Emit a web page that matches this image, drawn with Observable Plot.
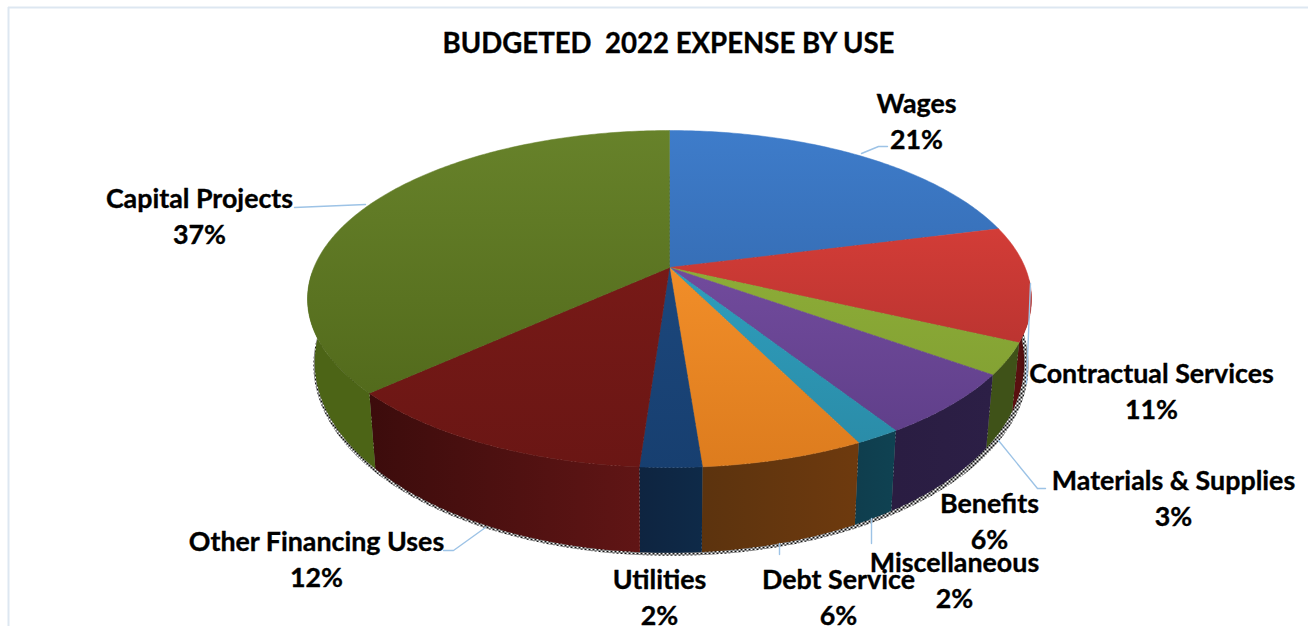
<!DOCTYPE html>
<html>
<head>
<meta charset="utf-8">
<script src="https://cdn.jsdelivr.net/npm/d3@7"></script>
<script src="https://cdn.jsdelivr.net/npm/@observablehq/plot@0.6"></script>
<style>
html,body{margin:0;padding:0;background:#fff}
svg{display:block}
</style>
</head>
<body>
<div id="chart"></div>
<script>
// --- data ---
const categories = ["Wages","Contractual Services","Materials & Supplies","Benefits","Miscellaneous","Debt Service","Utilities","Other Financing Uses","Capital Projects"];
const shares     = [21, 11, 3, 6, 1.7, 6.1, 2.3, 12.1, 36.8];     // slice widths
const percentLabels = ["21%","11%","3%","6%","2%","6%","2%","12%","37%"];
const chartTitle = "BUDGETED  2022 EXPENSE BY USE";

// --- styles ---
const topLight = ["#3e7cca","#e6433c","#98b83c","#8054ac","#31abcb","#ff9a30","#1f4c84","#801c19","#67822a"];
const topDark  = ["#2c5c9c","#a32c2a","#7c9a30","#5c3d86","#2a8aa6","#dd7c1e","#173f70","#6a1614","#4d6418"];
const sideA    = ["#16365c","#400a0a","#3f5218","#2c1f46","#0f4252","#6e3a0e","#0e2a48","#601515","#4c6416"];
const sideB    = ["#16365c","#5a1010","#3f5218","#2a1d42","#0f3e4e","#5c330e","#0e2440","#3c0c0c","#4c6416"];
const leaderColor = "#9dc3e6";
const frameColor = "#dde7f1";

// --- layout of the tilted disc ---
const cx = 669, cy = 267, A = 355.6, B = 162.6, k = 0.187;
const lowX = 0.98, lowCy = 326, lowB = 184;
const ring = (f, sx, yc, b) => {
  const t = 2 * Math.PI * f, s = Math.sin(t), c = Math.cos(t), w = 1 + k * c;
  return {x: cx + sx * A * s / w, y: yc - b * c / w};
};
const topPt = f => ring(f, 1, cy, B);
const lowPt = f => ring(f, lowX, lowCy, lowB);

const total = d3.sum(shares);
const cum = d3.cumsum(shares).map(v => v / total);
const starts = [0, ...cum.slice(0, -1)];
const steps = (a, b, d) => { const n = Math.max(1, Math.ceil((b - a) / d)); return d3.range(n + 1).map(i => a + (b - a) * i / n); };

// top wedges, one polygon per slice
const wedges = categories.map((name, i) => [
  {x: cx, y: cy}, ...steps(starts[i], cum[i], 0.002).map(topPt), {x: cx, y: cy}
]);

// rim panels, one polygon per visible slice
const rimLimits = categories.map((name, i) => [Math.max(starts[i], 0.262), Math.min(cum[i], 0.745)]);
const rims = categories.map((name, i) => {
  const [a, b] = rimLimits[i];
  if (a >= b) return [];
  const fs = steps(a, b, 0.002);
  return [...fs.map(topPt), ...fs.slice().reverse().map(lowPt), topPt(a)];
});

// halftone shadow below the rim
const shadow = steps(0, 1, 0.002).map(f => { const p = lowPt(f); return {x: cx + 1.5 + (p.x - cx) * 1.008, y: p.y + 3}; });

// label anchors and leader lines
const labelAt = [[916,119],[1151,389],[1173,496],[989,519],[954,578],[838,595],[659,595],[316,557],[199,214]];
const leaders = [
  [[861,153],[878,146],[887,146]],
  [[1030,283],[1026,383]],
  [[998,440],[1037,488],[1045,488]],
  [],
  [[871,518],[871,543]],
  [[779,543],[779,554]],
  [],
  [[485,527],[453,550],[443,550]],
  [[365,204],[294,207]]
];
const labels = categories.map((name, i) => ({x: labelAt[i][0], y: labelAt[i][1], text: name + "\n" + percentLabels[i]}));
const leaderRows = leaders.flatMap((l, i) => l.map(p => ({x: p[0], y: p[1], i})));

const defsMark = () => {
  const defs = d3.create("svg:defs");
  categories.forEach((n, i) => {
    const g = defs.append("linearGradient").attr("id", "top" + i).attr("gradientUnits", "userSpaceOnUse")
      .attr("x1", 0).attr("x2", 0).attr("y1", 130).attr("y2", 467);
    g.append("stop").attr("offset", 0).attr("stop-color", topLight[i]);
    g.append("stop").attr("offset", 1).attr("stop-color", topDark[i]);
    if (rims[i].length) {
      const x1 = topPt(rimLimits[i][0]).x, x2 = topPt(rimLimits[i][1]).x;
      const h = defs.append("linearGradient").attr("id", "rim" + i).attr("gradientUnits", "userSpaceOnUse")
        .attr("x1", x1).attr("x2", x2).attr("y1", 0).attr("y2", 0);
      h.append("stop").attr("offset", 0).attr("stop-color", sideA[i]);
      h.append("stop").attr("offset", 1).attr("stop-color", sideB[i]);
    }
  });
  const p = defs.append("pattern").attr("id", "dither").attr("patternUnits", "userSpaceOnUse").attr("width", 4).attr("height", 4);
  p.append("rect").attr("width", 2).attr("height", 2).attr("fill", "#111");
  p.append("rect").attr("x", 2).attr("y", 2).attr("width", 2).attr("height", 2).attr("fill", "#111");
  return defs.node();
};

const font = "Lato, Carlito, Calibri, sans-serif";
const chart = Plot.plot({
  width: 1308, height: 626,
  margin: 0,
  x: {domain: [0, 1308], range: [0, 1308], axis: null},
  y: {domain: [0, 626], range: [0, 626], axis: null},
  style: {background: "#fff"},
  marks: [
    defsMark,
    Plot.ruleY([7], {x1: 8, x2: 1308, stroke: frameColor, strokeWidth: 2}),
    Plot.ruleX([8], {y1: 7, y2: 626, stroke: frameColor, strokeWidth: 2}),
    Plot.line(shadow, {x: "x", y: "y", fill: "url(#dither)", stroke: "none"}),
    ...rims.map((r, i) => r.length ? Plot.line(r, {x: "x", y: "y", fill: `url(#rim${i})`, stroke: "none"}) : null),
    ...wedges.map((w, i) => Plot.line(w, {x: "x", y: "y", fill: `url(#top${i})`, stroke: `url(#top${i})`, strokeWidth: 0.5})),
    Plot.line(leaderRows, {x: "x", y: "y", z: "i", stroke: leaderColor, strokeWidth: 1.4, curve: "linear"}),
    Plot.text(labels, {x: "x", y: "y", text: "text", fontFamily: font, fontWeight: "bold", fontSize: 26.8, lineHeight: 1.32, fill: "#000", stroke: "#000", strokeWidth: 0.35}),
    Plot.text([chartTitle], {x: () => 668, y: () => 44, fontFamily: font, fontWeight: "bold", fontSize: 27.6, fill: "#000", stroke: "#000", strokeWidth: 0.35})
  ]
});
document.getElementById("chart").append(chart);
</script>
</body>
</html>
